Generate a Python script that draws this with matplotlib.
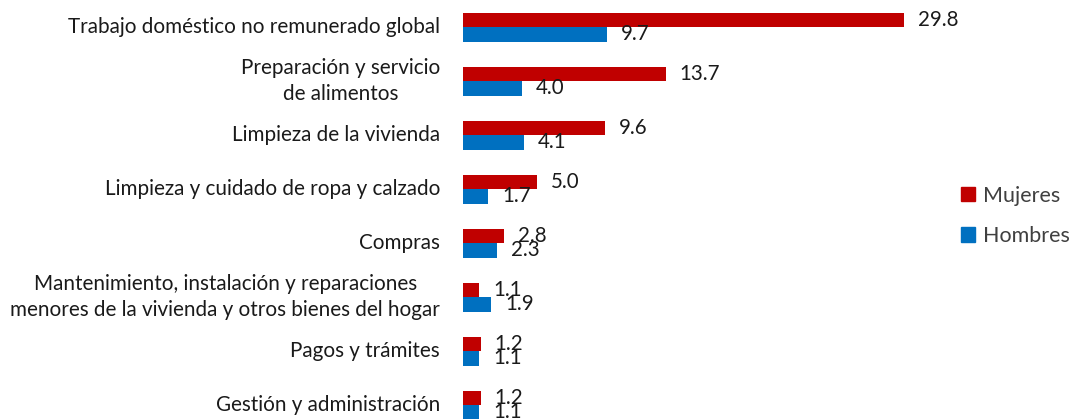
import matplotlib
matplotlib.use("Agg")
import matplotlib.pyplot as plt
from matplotlib.patches import Patch
import numpy as np

categories = [
    "Trabajo doméstico no remunerado global",
    "Preparación y servicio\nde alimentos",
    "Limpieza de la vivienda",
    "Limpieza y cuidado de ropa y calzado",
    "Compras",
    "Mantenimiento, instalación y reparaciones\nmenores de la vivienda y otros bienes del hogar",
    "Pagos y trámites",
    "Gestión y administración",
]
mujeres = [29.8, 13.7, 9.6, 5.0, 2.8, 1.1, 1.2, 1.2]
hombres = [9.7, 4.0, 4.1, 1.7, 2.3, 1.9, 1.1, 1.1]
series_names = ["Mujeres", "Hombres"]
colors = ["#C00000", "#0070C0"]

plt.rcParams['font.family'] = ['Lato', 'DejaVu Sans']

W, H = 1075, 419
fig = plt.figure(figsize=(W / 100, H / 100), dpi=100)
left_px = 463
ax = fig.add_axes([left_px / W, 0, 1 - left_px / W, 1])

px_per_unit = 14.8
ax.set_xlim(0, (W - left_px) / px_per_unit)
spacing = 54.0
top_center = 27.0
ax.set_ylim((H - top_center) / spacing, -top_center / spacing)

y = np.arange(len(categories))
bh = 14.5 / spacing
ax.barh(y - bh / 2, mujeres, height=bh, color=colors[0])
ax.barh(y + bh / 2, hombres, height=bh, color=colors[1])

gap = 14 / px_per_unit
for i, (m, h) in enumerate(zip(mujeres, hombres)):
    ax.text(m + gap, y[i] - bh / 2, f"{m:.1f}", va="center", ha="left",
            fontsize=14.8, color="#1a1a1a")
    ax.text(h + gap, y[i] + bh / 2, f"{h:.1f}", va="center", ha="left",
            fontsize=14.8, color="#1a1a1a")

for i, c in enumerate(categories):
    ax.text(-23 / px_per_unit, y[i], c, ha="right", va="center",
            multialignment="center", fontsize=14.9, color="#1a1a1a",
            linespacing=1.4, clip_on=False)

for s in ax.spines.values():
    s.set_visible(False)
ax.set_xticks([])
ax.set_yticks([])

handles = [Patch(color=colors[0]), Patch(color=colors[1])]
fig.legend(handles, series_names, loc="center left",
           bbox_to_anchor=(942 / W, 1 - 216 / H), frameon=False,
           fontsize=15.5, labelcolor="#404040", handlelength=0.65,
           handleheight=0.65, handletextpad=0.35, labelspacing=0.95)

fig.savefig("out.png", dpi=100)
